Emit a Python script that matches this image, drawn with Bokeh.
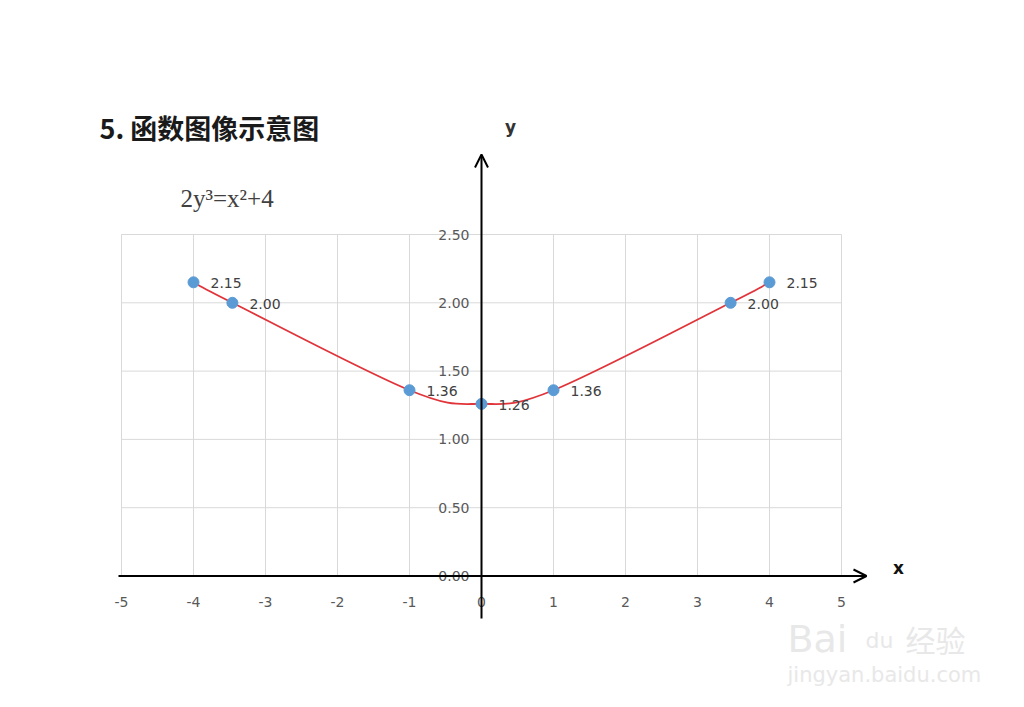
from bokeh.plotting import figure
from bokeh.models import Label, Arrow, OpenHead, ColumnDataSource
from bokeh.core.properties import value
from bokeh.embed import file_html
from bokeh.resources import INLINE

# ---- data ----
xs = [-4, -3.46, -1, 0, 1, 3.46, 4]
ys = [2.15, 2.00, 1.36, 1.26, 1.36, 2.00, 2.15]
point_labels = ["2.15", "2.00", "1.36", "1.26", "1.36", "2.00", "2.15"]
x_ticks = [-5, -4, -3, -2, -1, 0, 1, 2, 3, 4, 5]
y_ticks = [0.0, 0.5, 1.0, 1.5, 2.0, 2.5]
x_tick_labels = ["-5", "-4", "-3", "-2", "-1", "0", "1", "2", "3", "4", "5"]
y_tick_labels = ["0.00", "0.50", "1.00", "1.50", "2.00", "2.50"]
title_text = "5. 函数图像示意图"
equation_text = "2y³=x²+4"

# ---- layout: the frame covers the whole canvas, ranges map data to pixels ----
W, H = 1008, 691
SX = 72.0       # px per x unit
SY = 136.6      # px per y unit
X0_PX, Y0_PX = 121, 575.5   # where x=-5 and y=0 sit in the picture
x_start = -5 - X0_PX / SX
y_end = Y0_PX / SY
x_end = x_start + W / SX
y_start = y_end - H / SY

def dx(px):  # picture pixel x -> data x
    return x_start + px / SX

def dy(py):  # picture pixel y -> data y
    return y_end - py / SY

p = figure(width=W, height=H, x_range=(x_start, x_end), y_range=(y_start, y_end),
           output_backend="svg", toolbar_location=None, min_border=0,
           background_fill_color="white", border_fill_color="white")
p.axis.visible = False
p.grid.visible = False
p.outline_line_color = None

xmin, xmax = x_ticks[0], x_ticks[-1]
ymin, ymax = y_ticks[0], y_ticks[-1]

# grid lines
vx = [t for t in x_ticks if t != 0]
p.segment(x0=vx, y0=[ymin] * len(vx), x1=vx, y1=[ymax] * len(vx),
          line_color="#d9d9d9", line_width=1)
hy = [t for t in y_ticks if t != 0]
p.segment(x0=[xmin] * len(hy), y0=hy, x1=[xmax] * len(hy), y1=hy,
          line_color="#d9d9d9", line_width=1)

# axes with arrows
p.add_layout(Arrow(x_start=dx(118), y_start=0, x_end=dx(866), y_end=0,
                   line_color="black", line_width=2,
                   end=OpenHead(size=13, line_color="black", line_width=2)))
p.add_layout(Arrow(x_start=0, y_start=dy(618), x_end=0, y_end=dy(154),
                   line_color="black", line_width=2,
                   end=OpenHead(size=13, line_color="black", line_width=2)))

# tick labels
p.text(x=x_ticks, y=[dy(601)] * len(x_ticks), text=x_tick_labels,
       text_align="center", text_baseline="middle", text_font_size="14px",
       text_color="#595959", text_font=value("DejaVu Sans"))
p.text(x=[dx(469)] * len(y_ticks), y=y_ticks, text=y_tick_labels,
       text_align="right", text_baseline="middle", text_font_size="14px",
       text_color="#595959", text_font=value("DejaVu Sans"))

# smooth curve through the points (Catmull-Rom -> cubic Bezier)
n = len(xs)
bx0, by0, bx1, by1, c0x, c0y, c1x, c1y = [], [], [], [], [], [], [], []
for i in range(n - 1):
    pxm = xs[max(i - 1, 0)]; pym = ys[max(i - 1, 0)]
    px2 = xs[min(i + 2, n - 1)]; py2 = ys[min(i + 2, n - 1)]
    bx0.append(xs[i]); by0.append(ys[i]); bx1.append(xs[i + 1]); by1.append(ys[i + 1])
    c0x.append(xs[i] + (xs[i + 1] - pxm) / 6.0)
    c0y.append(ys[i] + (ys[i + 1] - pym) / 6.0)
    c1x.append(xs[i + 1] - (px2 - xs[i]) / 6.0)
    c1y.append(ys[i + 1] - (py2 - ys[i]) / 6.0)
p.bezier(x0=bx0, y0=by0, x1=bx1, y1=by1, cx0=c0x, cy0=c0y, cx1=c1x, cy1=c1y,
         line_color="#e0343a", line_width=1.8)

# markers
src = ColumnDataSource(dict(x=xs, y=ys, lab=point_labels))
p.scatter(x="x", y="y", source=src, size=11, fill_color="#5b9bd5",
          line_color="#5b9bd5")
p.text(x="x", y="y", text="lab", source=src, x_offset=17, y_offset=1,
       text_align="left", text_baseline="middle", text_font_size="14px",
       text_color="#404040", text_font=value("DejaVu Sans"))

# texts
p.add_layout(Label(x=dx(99), y=dy(127), text=title_text, text_font_size="27px",
                   text_font="Noto Sans CJK SC", text_font_style="bold",
                   text_color="#1a1a1a", text_baseline="middle"))
p.add_layout(Label(x=dx(180), y=dy(198), text=equation_text, text_font_size="25px",
                   text_font="Liberation Serif", text_color="#404040",
                   text_baseline="middle"))
p.add_layout(Label(x=dx(510), y=dy(126), text="y", text_font_size="17px",
                   text_font="DejaVu Sans", text_font_style="bold",
                   text_color="#333333", text_align="center", text_baseline="middle"))
p.add_layout(Label(x=dx(898), y=dy(567), text="x", text_font_size="17px",
                   text_font="DejaVu Sans", text_font_style="bold",
                   text_color="#111111", text_align="center", text_baseline="middle"))

# watermark
p.add_layout(Label(x=dx(787), y=dy(638), text="Bai", text_font_size="38px",
                   text_font="DejaVu Sans", text_color="#e8e8e8", text_baseline="middle"))
p.add_layout(Label(x=dx(865), y=dy(640), text="du", text_font_size="22px",
                   text_font="DejaVu Sans", text_color="#e8e8e8", text_baseline="middle"))
p.add_layout(Label(x=dx(905), y=dy(638), text="经验", text_font_size="30px",
                   text_font="Noto Sans CJK SC", text_color="#e8e8e8", text_baseline="middle"))
p.add_layout(Label(x=dx(787), y=dy(674), text="jingyan.baidu.com", text_font_size="21px",
                   text_font="DejaVu Sans", text_color="#e8e8e8", text_baseline="middle"))

open("out.html", "w").write(file_html(p, INLINE))
